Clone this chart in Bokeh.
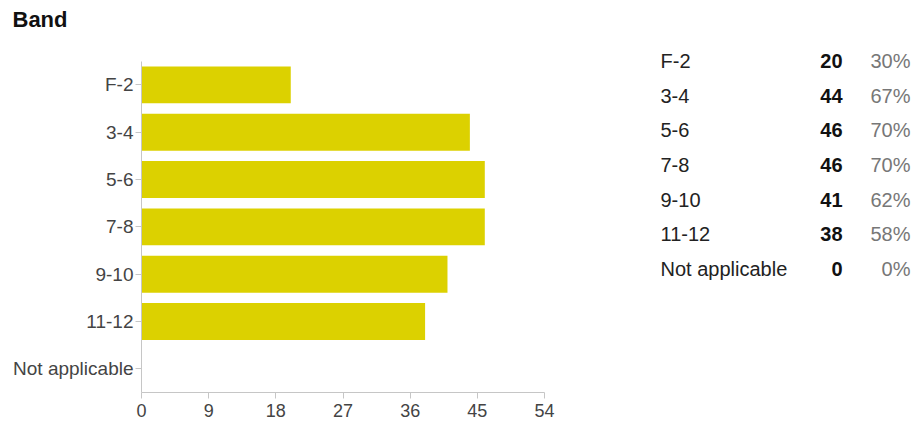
from bokeh.plotting import figure
from bokeh.layouts import row, column
from bokeh.models import ColumnDataSource, FixedTicker, Range1d
from bokeh.embed import file_html
from bokeh.resources import INLINE
from bokeh.core.properties import value

# ---- data ----
title_text = "Band"
categories = ["F-2", "3-4", "5-6", "7-8", "9-10", "11-12", "Not applicable"]
counts = [20, 44, 46, 46, 41, 38, 0]
percents = ["30%", "67%", "70%", "70%", "62%", "58%", "0%"]
x_ticks = [0, 9, 18, 27, 36, 45, 54]

FONT = "Liberation Sans"
BAR_COLOR = "#dcd100"
AXIS_COLOR = "#c6c6c6"

idx = list(range(len(categories)))

# ---- title strip ----
t = figure(width=917, height=40, x_range=Range1d(0, 917), y_range=Range1d(40, 0),
           x_axis_location=None, y_axis_location=None,
           output_backend="svg", toolbar_location=None, min_border=0)
t.xgrid.visible = False
t.ygrid.visible = False
t.outline_line_color = None
t.text(x=[12], y=[19], text=[title_text], text_font=value(FONT),
       text_font_size="22px", text_font_style="bold", text_color="#111111",
       text_align="left", text_baseline="middle")

# ---- bar chart (categories at integer positions, top to bottom) ----
src = ColumnDataSource(dict(pos=idx, cat=categories, count=counts))

p = figure(width=600, height=384,
           y_range=Range1d(len(categories) - 0.5, -0.937),
           x_range=Range1d(0, 54),
           output_backend="svg", toolbar_location=None,
           min_border_left=141, min_border_right=56,
           min_border_top=0, min_border_bottom=32)
p.hbar(y="pos", right="count", height=0.78, source=src,
       fill_color=BAR_COLOR, line_color=None)

p.xaxis.ticker = FixedTicker(ticks=x_ticks)
p.yaxis.ticker = FixedTicker(ticks=idx)
p.yaxis.major_label_overrides = {i: c for i, c in zip(idx, categories)}
p.yaxis.bounds = (-0.5, len(categories) - 0.5)
for ax in (p.xaxis, p.yaxis):
    ax.axis_line_color = AXIS_COLOR
    ax.major_tick_line_color = AXIS_COLOR
    ax.minor_tick_line_color = None
    ax.major_tick_in = 0
    ax.major_tick_out = 6
    ax.major_label_text_font = FONT
    ax.major_label_text_font_size = "18px"
    ax.major_label_text_color = "#444444"
p.yaxis.major_label_text_font_size = "19px"
p.yaxis.major_label_standoff = 2
p.xaxis.major_label_standoff = 5
p.xgrid.visible = False
p.ygrid.visible = False
p.outline_line_color = None

# ---- side table ----
tsrc = ColumnDataSource(dict(i=idx, cat=categories,
                             cnt=[str(c) for c in counts], pct=percents))

q = figure(width=317, height=384, x_range=Range1d(0, 317),
           y_range=Range1d(9.575, -0.598),
           x_axis_location=None, y_axis_location=None,
           output_backend="svg", toolbar_location=None, min_border=0)
q.xgrid.visible = False
q.ygrid.visible = False
q.outline_line_color = None

q.text(x=60, y="i", text="cat", source=tsrc, text_font=value(FONT),
       text_font_size="20px", text_color="#222222",
       text_align="left", text_baseline="middle")
q.text(x=242, y="i", text="cnt", source=tsrc, text_font=value(FONT),
       text_font_size="20px", text_font_style="bold", text_color="#111111",
       text_align="right", text_baseline="middle")
q.text(x=310, y="i", text="pct", source=tsrc, text_font=value(FONT),
       text_font_size="20px", text_color="#777777",
       text_align="right", text_baseline="middle")

layout = column(t, row(p, q))
open("out.html", "w").write(file_html(layout, INLINE))
